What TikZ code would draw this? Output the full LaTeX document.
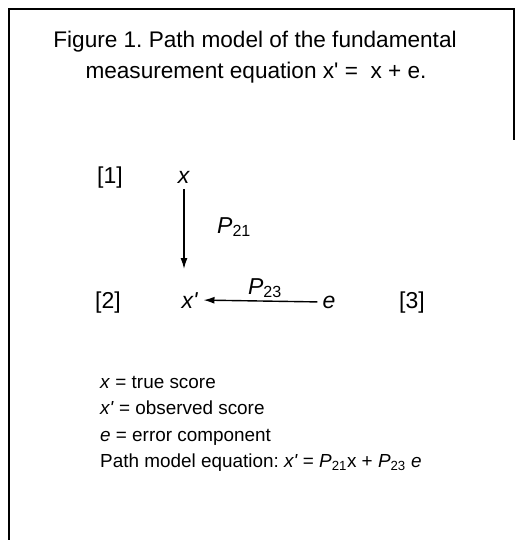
\documentclass[tikz,border=0pt]{standalone}
\usepackage{fontspec}
\setmainfont{Liberation Sans}[Ligatures=TeXOff]
\usetikzlibrary{arrows.meta}
\frenchspacing
\tikzset{
  big/.style={font=\fontsize{22.6}{27}\selectfont, inner sep=0pt},
  diag/.style={font=\fontsize{23}{27}\selectfont, inner sep=0pt},
  small/.style={font=\fontsize{18.9}{22}\selectfont, inner sep=0pt, anchor=base west},
  path arrow/.style={line width=1.4pt, -{Latex[length=11pt,width=7pt]}}
}
\newcommand{\Pth}[1]{\textit{P}\textsubscript{#1}}
\begin{document}
\begin{tikzpicture}[x=1pt,y=-1pt]
      \useasboundingbox (0,0) rectangle (517,540);
      % frame (right side faded in the scan)
      \draw[line width=2.5pt] (9,540) -- (9,9) -- (514,9) -- (514,140);

      \node[big, anchor=base] (title1) at (255,48) {Figure 1. Path model of the fundamental};
      \node[big, anchor=base] (title2) at (256,79) {measurement equation x' = \ x + e.};

      \node[diag, anchor=base] (n1) at (110,183) {[1]};
      \node[diag, anchor=base] (x) at (184,183) {\textit{x}};
      \node[diag, anchor=base] (n2) at (108,308) {[2]};
      \node[diag, anchor=base] (xp) at (190,308) {\textit{x'}};
      \node[diag, anchor=base] (e) at (329,308) {\textit{e}};
      \node[diag, anchor=base] (n3) at (412,308) {[3]};

      \draw[path arrow] (x.south) ++(0,6) coordinate (xs) -- (xs |- 0,269);
      \draw[path arrow] ([xshift=-5pt]e.west) -- ([xshift=5pt]xp.east);
      \node[diag, anchor=base west] (p21) at (217,233) {\Pth{21}};
      \node[diag, anchor=base] (p23) at (265,294) {\Pth{23}};

      \node[small] (l1) at (100,388) {\textit{x} = true score};
      \node[small] (l2) at (100,414) {\textit{x'} = observed score};
      \node[small] (l3) at (100,441) {\textit{e} = error component};
      \node[small] (l4) at (100,467) {Path model equation: \textit{x'} = \Pth{21}x + \Pth{23} \textit{e}};
    \end{tikzpicture}
\end{document}
